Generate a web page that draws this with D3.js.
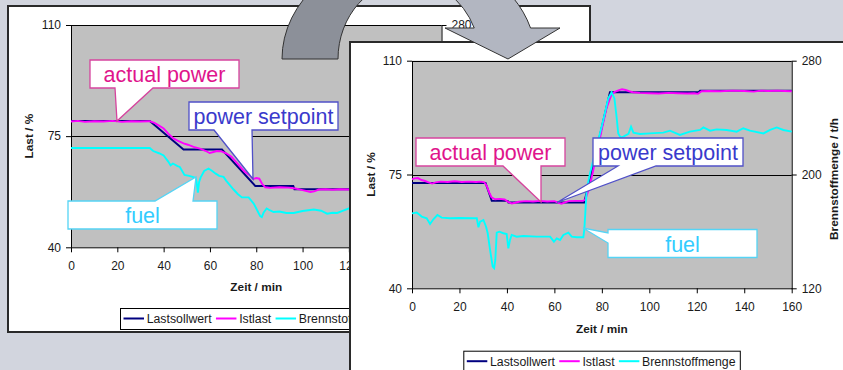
<!DOCTYPE html>
<html>
<head>
<meta charset="utf-8">
<script src="https://cdn.jsdelivr.net/npm/d3@7"></script>
<style>
  html, body { margin: 0; padding: 0; background: #d2d5de; }
  svg { display: block; }
</style>
</head>
<body>
<svg id="slide" width="843" height="370"></svg>
<script>
// ---- shared axis / legend data ----
const timeTicks = [0, 20, 40, 60, 80, 100, 120, 140, 160];
const loadTicks = [40, 75, 110];
const fuelTicks = [120, 200, 280];
const seriesNames = ["Lastsollwert", "Istlast", "Brennstoffmenge"];
const seriesColors = ["#000080", "#ff00ff", "#00ffff"];

// ---- load reduction run: [min, %] and fuel [min, t/h] ----
const downSetpoint = [[0, 79.8], [34, 79.8], [48.6, 70.8], [65.2, 70.8], [79.6, 59.3],
  [96, 59.3], [96.5, 58.3], [122, 58.3]];
const downActual = [[0, 79.6], [3, 79.8], [6, 79.5], [10, 79.7], [14, 79.6], [18, 79.8],
  [22, 79.5], [26, 79.7], [30, 79.6], [34, 79.7], [36, 79.2], [38, 78.3], [40, 77.4],
  [42, 75.8], [44.2, 74.3], [46, 73.6], [48.6, 72.7], [50.5, 72.3], [52.9, 71.6],
  [54.5, 71.3], [56, 71.0], [58, 70.4], [59.9, 69.7], [61.5, 70.0], [63, 70.3], [65, 70.2],
  [67, 69.6], [69.3, 68.5], [72, 66.3], [75, 63.8], [77, 62.8], [78.7, 61.5], [80, 61.8],
  [81.3, 61.6], [82.5, 60.0], [83.9, 58.9], [86, 58.7], [90, 58.9], [94, 58.8], [97, 58.5],
  [100, 58.0], [103.4, 57.4], [105, 57.6], [107, 58.2], [110, 58.3], [113, 58.1],
  [116, 58.3], [120, 58.2], [122, 58.3]];
const downFuel = [[0, 191.5], [34, 191.5], [35.5, 189.3], [38, 187.7], [40, 186.1],
  [42, 181.7], [43, 179.0], [44, 180.3], [46, 178.5], [47, 177.8], [49, 172.1], [51, 171.4],
  [52.5, 170.7], [53.7, 170.1], [54.2, 167.5], [54.8, 159.3], [55.3, 166.9], [56, 170.3],
  [57.5, 174.9], [59.4, 176.7], [61, 174.9], [62.5, 173.0], [64, 171.4], [65.9, 170.7],
  [67, 168.0], [68.5, 165.0], [70.2, 161.6], [72, 158.4], [73.8, 155.9], [76.7, 155.9],
  [78.9, 151.5], [80.5, 146.3], [81.7, 142.4], [82.4, 141.7], [83.2, 145.1], [84.5, 147.9],
  [86, 146.5], [87.5, 145.4], [90, 145.8], [93, 144.7], [96.2, 144.7], [100, 146.1],
  [104.9, 147.2], [108, 146.3], [110.6, 144.2], [113, 144.9], [114.9, 144.7], [117, 146.1],
  [119.9, 147.9], [122, 148.1]];

// ---- load increase run ----
const upSetpoint = [[0, 72.4], [31, 72.4], [33.6, 66.9], [40.3, 66.9], [40.6, 66.4],
  [72.6, 66.4], [83.4, 100.3], [120.8, 100.3], [121.4, 100.8], [160, 100.8]];
const upActual = [[0, 73.5], [1, 73.8], [2.5, 73.9], [4, 73.3], [5.5, 73.0], [7, 72.6],
  [8.5, 72.2], [10, 72.6], [12, 72.8], [15, 72.7], [18, 72.9], [21, 72.7], [24, 72.8],
  [27, 72.7], [29, 72.8], [30.5, 72.6], [31.5, 71.5], [32.5, 69.5], [33.5, 68.0], [35, 67.4],
  [37, 67.5], [39, 67.3], [40.5, 66.6], [42, 66.1], [43.5, 66.3], [45, 66.6], [48, 66.8],
  [51, 66.7], [54, 66.9], [57, 66.7], [60, 66.8], [61.8, 66.3], [63, 66.0], [64.5, 66.4],
  [66, 66.8], [69, 66.9], [72, 66.9], [73, 67.2], [74.5, 70.5], [76, 75], [78, 82], [80, 89],
  [82, 95.5], [84, 99.5], [85.5, 100.4], [87, 100.9], [88.5, 101.2], [90, 101.0],
  [91.5, 100.6], [93, 100.3], [96, 100.1], [100, 100.0], [104, 99.9], [108, 100.1],
  [112, 100.0], [116, 99.9], [119, 100.0], [120.5, 99.8], [122, 100.6], [125, 100.7],
  [130, 100.6], [135, 100.8], [140, 100.7], [144, 100.5], [147, 100.8], [150, 100.7],
  [154, 100.8], [157, 100.7], [160, 100.6]];
const upFuel = [[0, 172.7], [2, 173.2], [4.1, 170.4], [6.2, 169.2], [7.6, 165.2], [9, 168.5],
  [10.7, 171.5], [12.5, 169.7], [16, 169.2], [20, 169.4], [25.8, 169.2], [27.3, 169.2],
  [28, 162.9], [28.7, 166.9], [30.1, 168.0], [31.2, 163.3], [31.9, 158.7], [32.9, 147.0],
  [34, 135.2], [34.6, 134.1], [35.1, 139.9], [35.7, 159.1], [36.8, 159.8], [38.5, 158.7],
  [39.9, 158.2], [40.6, 148.1], [41.3, 154.0], [42, 157.5], [44.1, 156.3], [46.9, 156.8],
  [52.5, 156.3], [58.2, 156.3], [59.8, 152.8], [61, 155.1], [62.4, 154.0], [63.8, 157.5],
  [65.9, 159.1], [67.3, 156.3], [69.4, 155.9], [72.2, 155.9], [72.6, 161.0], [73.6, 189.1],
  [75, 200.8], [77.8, 219.6], [80.6, 238.3], [82.7, 253.5], [84.1, 257.7], [85.3, 253.5],
  [86.2, 240.6], [86.9, 228.9], [87.9, 226.1], [89.1, 226.6], [91.2, 228.5], [92.3, 233.6],
  [93.3, 229.4], [96.1, 228.5], [100.3, 228.9], [105.9, 229.4], [108.7, 230.8],
  [112.9, 227.8], [117.1, 230.1], [121.4, 231.3], [122.8, 233.1], [125.6, 230.8],
  [128.4, 231.7], [132.6, 231.3], [136.8, 230.1], [139.6, 232.5], [142.4, 230.8],
  [148.1, 228.9], [150.9, 231.3], [153.7, 233.1], [156.5, 231.3], [160, 230.1]];

const FONT = "'Liberation Sans', Arial, sans-serif";
const svg = d3.select("#slide");

// slide background
svg.append("rect").attr("width", 843).attr("height", 370).attr("fill", "#d2d5de");

function panel(x, y, w, h) {
  svg.append("rect").attr("x", x).attr("y", y).attr("width", w).attr("height", h)
    .attr("fill", "#ffffff").attr("stroke", "#2a2a2a").attr("stroke-width", 2);
}

function chart(opt) {
  const g = svg.append("g");
  const x = d3.scaleLinear().domain([0, 160]).range([opt.x0, opt.x1]);
  const yL = d3.scaleLinear().domain([40, 110]).range([opt.yb, opt.yt]);
  const yF = d3.scaleLinear().domain([120, 280]).range([opt.yb, opt.yt]);
  // ticks that would sit under an overlapping panel are left out
  const shownX = opt.hidden ? timeTicks.filter(v => x(v) < opt.hidden.x) : timeTicks;
  const shownF = opt.hidden ? fuelTicks.filter(v => yF(v) < opt.hidden.y) : fuelTicks;

  g.append("rect").attr("x", opt.x0).attr("y", opt.yt)
    .attr("width", opt.x1 - opt.x0).attr("height", opt.yb - opt.yt).attr("fill", "#c0c0c0");

  // major gridlines
  g.selectAll("line.grid").data(loadTicks.slice(1)).join("line")
    .attr("x1", opt.x0).attr("x2", opt.x1)
    .attr("y1", d => Math.round(yL(d)) + 0.5).attr("y2", d => Math.round(yL(d)) + 0.5)
    .attr("stroke", "#000").attr("stroke-width", 1);

  const styleAxis = a => {
    a.selectAll("path,line").attr("stroke", "#000").attr("stroke-width", 1);
    a.selectAll("text").attr("font-family", FONT).attr("font-size", 12).attr("fill", "#1a1a1a");
  };

  g.append("g").attr("transform", `translate(${opt.x0},0)`)
    .call(d3.axisLeft(yL).tickValues(loadTicks).tickSizeInner(5).tickSizeOuter(0).tickPadding(5))
    .call(styleAxis);
  g.append("g").attr("transform", `translate(${opt.x1},0)`)
    .call(d3.axisRight(yF).tickValues(shownF).tickSizeInner(5).tickSizeOuter(0).tickPadding(5))
    .call(styleAxis);
  g.append("g").attr("transform", `translate(0,${opt.yb})`)
    .call(d3.axisBottom(x).tickValues(shownX).tickSizeInner(5).tickSizeOuter(0).tickPadding(9.4))
    .call(styleAxis);

  const lineL = d3.line().x(d => x(d[0])).y(d => yL(d[1]));
  const lineF = d3.line().x(d => x(d[0])).y(d => yF(d[1]));
  g.append("path").attr("d", lineL(opt.setpoint)).attr("fill", "none")
    .attr("stroke", seriesColors[0]).attr("stroke-width", 1.9);
  g.append("path").attr("d", lineL(opt.actual)).attr("fill", "none")
    .attr("stroke", seriesColors[1]).attr("stroke-width", 1.9);
  g.append("path").attr("d", lineF(opt.fuel)).attr("fill", "none")
    .attr("stroke", seriesColors[2]).attr("stroke-width", 1.9);

  // axis titles
  g.append("text").attr("x", (opt.x0 + opt.x1) / 2).attr("y", opt.zeitY)
    .attr("text-anchor", "middle").attr("font-family", FONT).attr("font-weight", "bold")
    .attr("font-size", 11.8).attr("fill", "#1a1a1a").text("Zeit / min");
  g.append("text").attr("transform", `translate(${opt.lastX},${(opt.yt + opt.yb) / 2}) rotate(-90)`)
    .attr("text-anchor", "middle").attr("font-family", FONT).attr("font-weight", "bold")
    .attr("font-size", 11.8).attr("fill", "#1a1a1a").text("Last / %");
  if (opt.fuelTitleX) {
    g.append("text").attr("transform", `translate(${opt.fuelTitleX},${opt.fuelTitleY}) rotate(-90)`)
      .attr("text-anchor", "middle").attr("font-family", FONT).attr("font-weight", "bold")
      .attr("font-size", 11.8).attr("fill", "#1a1a1a").text("Brennstoffmenge / t/h");
  }

  // legend
  const lg = g.append("g").attr("transform", `translate(${opt.legX},${opt.legY})`);
  lg.append("rect").attr("x", 0.5).attr("y", 0.5).attr("width", 276.5).attr("height", 21)
    .attr("fill", "#fff").attr("stroke", "#000").attr("stroke-width", 1);
  let cx = 3.5;
  seriesNames.forEach((name, i) => {
    lg.append("line").attr("x1", cx).attr("x2", cx + 20.5).attr("y1", 10.5).attr("y2", 10.5)
      .attr("stroke", seriesColors[i]).attr("stroke-width", 2);
    const t = lg.append("text").attr("x", cx + 23.2).attr("y", 15)
      .attr("font-family", FONT).attr("font-size", 12.3).attr("fill", "#1a1a1a").text(name);
    cx = cx + 23.2 + t.node().getComputedTextLength() + 4.3;
  });
}

function callout(points, color, textColor, label, cx, by) {
  svg.append("path").attr("d", d3.line()(points) + "Z")
    .attr("fill", "#fff").attr("stroke", color).attr("stroke-width", 1.3)
    .attr("stroke-linejoin", "miter");
  svg.append("text").attr("x", cx).attr("y", by).attr("text-anchor", "middle")
    .attr("font-family", FONT).attr("font-size", 21.5).attr("fill", textColor).text(label);
}

// ---- left panel: load reduction ----
panel(8, 6, 582, 326);
chart({ x0: 71, x1: 441.5, yt: 25, yb: 247.3, zeitY: 291, lastX: 33.2,
  hidden: { x: 360, y: 42 },
  legX: 120, legY: 308, setpoint: downSetpoint, actual: downActual, fuel: downFuel });

callout([[90, 60], [239, 60], [239, 88], [153, 88], [117, 121], [115, 88], [90, 88]],
  "#d6449e", "#e0148c", "actual power", 164.5, 82);
callout([[189, 102], [338, 102], [338, 130], [252, 130], [253, 179], [214, 130], [189, 130]],
  "#5050c8", "#3a3acc", "power setpoint", 263.5, 124);
callout([[68, 201], [155, 201], [196, 177], [193, 201], [217, 201], [217, 229], [68, 229]],
  "#55d4f5", "#33ccff", "fuel", 142.5, 223);

// ---- right panel: load increase ----
panel(350, 42, 520, 340);
chart({ x0: 412, x1: 791.7, yt: 60.7, yb: 288.3, zeitY: 332.5, lastX: 375,
  fuelTitleX: 837.5, fuelTitleY: 179,
  legX: 463.3, legY: 350.7, setpoint: upSetpoint, actual: upActual, fuel: upFuel });

callout([[416, 138], [565, 138], [565, 166], [541, 166], [541, 202], [503, 166], [416, 166]],
  "#d6449e", "#e0148c", "actual power", 490.5, 160);
callout([[593, 138], [743, 138], [743, 166], [656, 166], [557, 202.5], [618, 166], [593, 166]],
  "#5050c8", "#3a3acc", "power setpoint", 668, 160);
callout([[608, 229.5], [757, 229.5], [757, 257.5], [608, 257.5], [608, 243], [583, 228], [608, 233]],
  "#55d4f5", "#33ccff", "fuel", 682.5, 251.5);

// ---- curved transition arrow between the two panels ----
const ac = [409, 59];
const outer = [127, 107], inner = [71, 78.7];
const yAt = 28;
const ox = ac[0] + outer[0] * Math.sqrt(1 - Math.pow((ac[1] - yAt) / outer[1], 2));
const ix = ac[0] + inner[0] * Math.sqrt(1 - Math.pow((ac[1] - yAt) / inner[1], 2));
svg.append("path")
  .attr("d", `M${ac[0]},${ac[1] - outer[1]} A${outer[0]},${outer[1]} 0 0 1 ${ox},${yAt}` +
    ` L560,${yAt} L508,59 L445,${yAt} L${ix},${yAt}` +
    ` A${inner[0]},${inner[1]} 0 0 0 ${ac[0]},${ac[1] - inner[1]} Z`)
  .attr("fill", "#b2b6c1").attr("stroke", "#333").attr("stroke-width", 1);
svg.append("path")
  .attr("d", `M${ac[0] - outer[0]},${ac[1]} A${outer[0]},${outer[1]} 0 0 1 ${ac[0]},${ac[1] - outer[1]}` +
    ` L${ac[0]},${ac[1] - inner[1]} A${inner[0]},${inner[1]} 0 0 0 ${ac[0] - inner[0]},${ac[1]} Z`)
  .attr("fill", "#8c9099").attr("stroke", "#333").attr("stroke-width", 1);
</script>
</body>
</html>
